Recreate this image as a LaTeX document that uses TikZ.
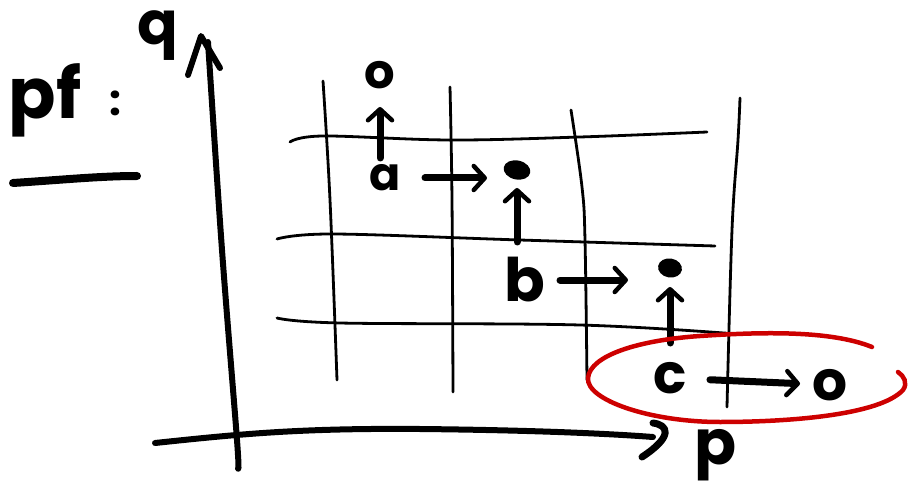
\documentclass[tikz,border=0pt]{standalone}
\usepackage{fontspec}
\setmainfont{Poppins}
\usetikzlibrary{arrows.meta,shapes.geometric}
\definecolor{ink}{RGB}{0,0,0}
\definecolor{marker}{RGB}{205,0,0}

\begin{document}
\begin{tikzpicture}[x=1pt,y=-1pt,
  gridline/.style={ink,line width=2.8pt,line cap=round},
  axisline/.style={ink,line width=6pt,line cap=round,line join=round},
  hop/.style={ink,line width=7pt,line cap=round,
    -{Straight Barb[length=11pt,width=24pt,round,line width=4.5pt]}},
  letter/.style={ink,inner sep=0pt,font=\bfseries\fontsize{#1}{#1}\selectfont},
  spot/.style={ellipse,fill=ink,inner sep=0pt,minimum width=27pt,minimum height=19pt}
]
\useasboundingbox (0,0) rectangle (913,489);

% heading
\node[letter=70] (title) at (45,100) {pf};
\node[letter=42] (colon) at (115,103) {:};
\draw[ink,line width=8pt,line cap=round] (13,183) .. controls (60,180) and (100,176) .. (137,176);

% axes
\coordinate (qtip) at (201,36);
\coordinate (ptip) at (653,437);
\draw[axisline] plot[smooth,tension=0.6] coordinates {(238,468) (237,440) (222,250) (208,42)};
\draw[axisline] (188,75) -- (qtip) -- (220,68);
\draw[axisline] (155,443) .. controls (240,434) and (300,428) .. (420,429)
  .. controls (520,430) and (600,433) .. (ptip);
\draw[axisline,line width=7pt] (653,423) .. controls (668,425) and (674,436) .. (642,457);
\node[letter=60] (qlab) at (158,36) {q};
\node[letter=62] (plab) at (716,455) {p};

% grid
\draw[gridline] plot[smooth,tension=0.6] coordinates {(323,81) (330,200) (337,380)};
\draw[gridline] plot[smooth,tension=0.6] coordinates {(450,87) (452,200) (453,392)};
\draw[gridline] plot[smooth,tension=0.6] coordinates {(571,110) (582,187) (585,240) (587,380)};
\draw[gridline] plot[smooth,tension=0.6] coordinates {(740,98) (738,140) (732,230) (727,407)};
\draw[gridline] plot[smooth,tension=0.6] coordinates {(290,142) (323,136) (450,140) (580,137) (707,132)};
\draw[gridline] plot[smooth,tension=0.6] coordinates {(277,239) (333,234) (520,240) (715,246)};
\draw[gridline] plot[smooth,tension=0.6] coordinates {(277,318) (340,323) (580,325) (737,334)};

% states
\node[letter=48] (otop) at (380,75) {o};
\node[letter=46] (a) at (385,178) {a};
\node[letter=60] (b) at (525,280) {b};
\node[letter=55] (c) at (670,378) {c};
\node[letter=55] (oright) at (830,385) {o};
\node[spot,rotate=-12] (d1) at (517,170) {};
\node[spot,minimum width=24pt,minimum height=19pt,rotate=-10] (d2) at (670,268) {};

% moves
\draw[hop,shorten <=20pt,shorten >=32pt] (otop |- a.center) -- (otop.center);
\draw[hop,shorten <=40pt,shorten >=30pt] (a.center) -- (a.center -| d1.center);
\draw[hop,shorten <=38pt,shorten >=18pt] (d1.center |- b.center) -- (d1.center);
\draw[hop,shorten <=35pt,shorten >=42pt] (b.center) -- (b.center -| d2.center);
\draw[hop,shorten <=35pt,shorten >=19pt] (d2.center |- c.center) -- (d2.center);
\draw[hop,shorten <=40pt,shorten >=30pt] (c.center) -- (oright.center);

% highlight round the last move
\draw[marker,line width=4.5pt,line cap=round]
  (872,347) .. controls (830,330) and (760,332) .. (700,336)
  .. controls (640,340) and (590,355) .. (588,378)
  .. controls (586,400) and (650,422) .. (720,422)
  .. controls (790,422) and (880,415) .. (903,390)
  .. controls (908,383) and (904,376) .. (898,372);
\end{tikzpicture}
\end{document}
